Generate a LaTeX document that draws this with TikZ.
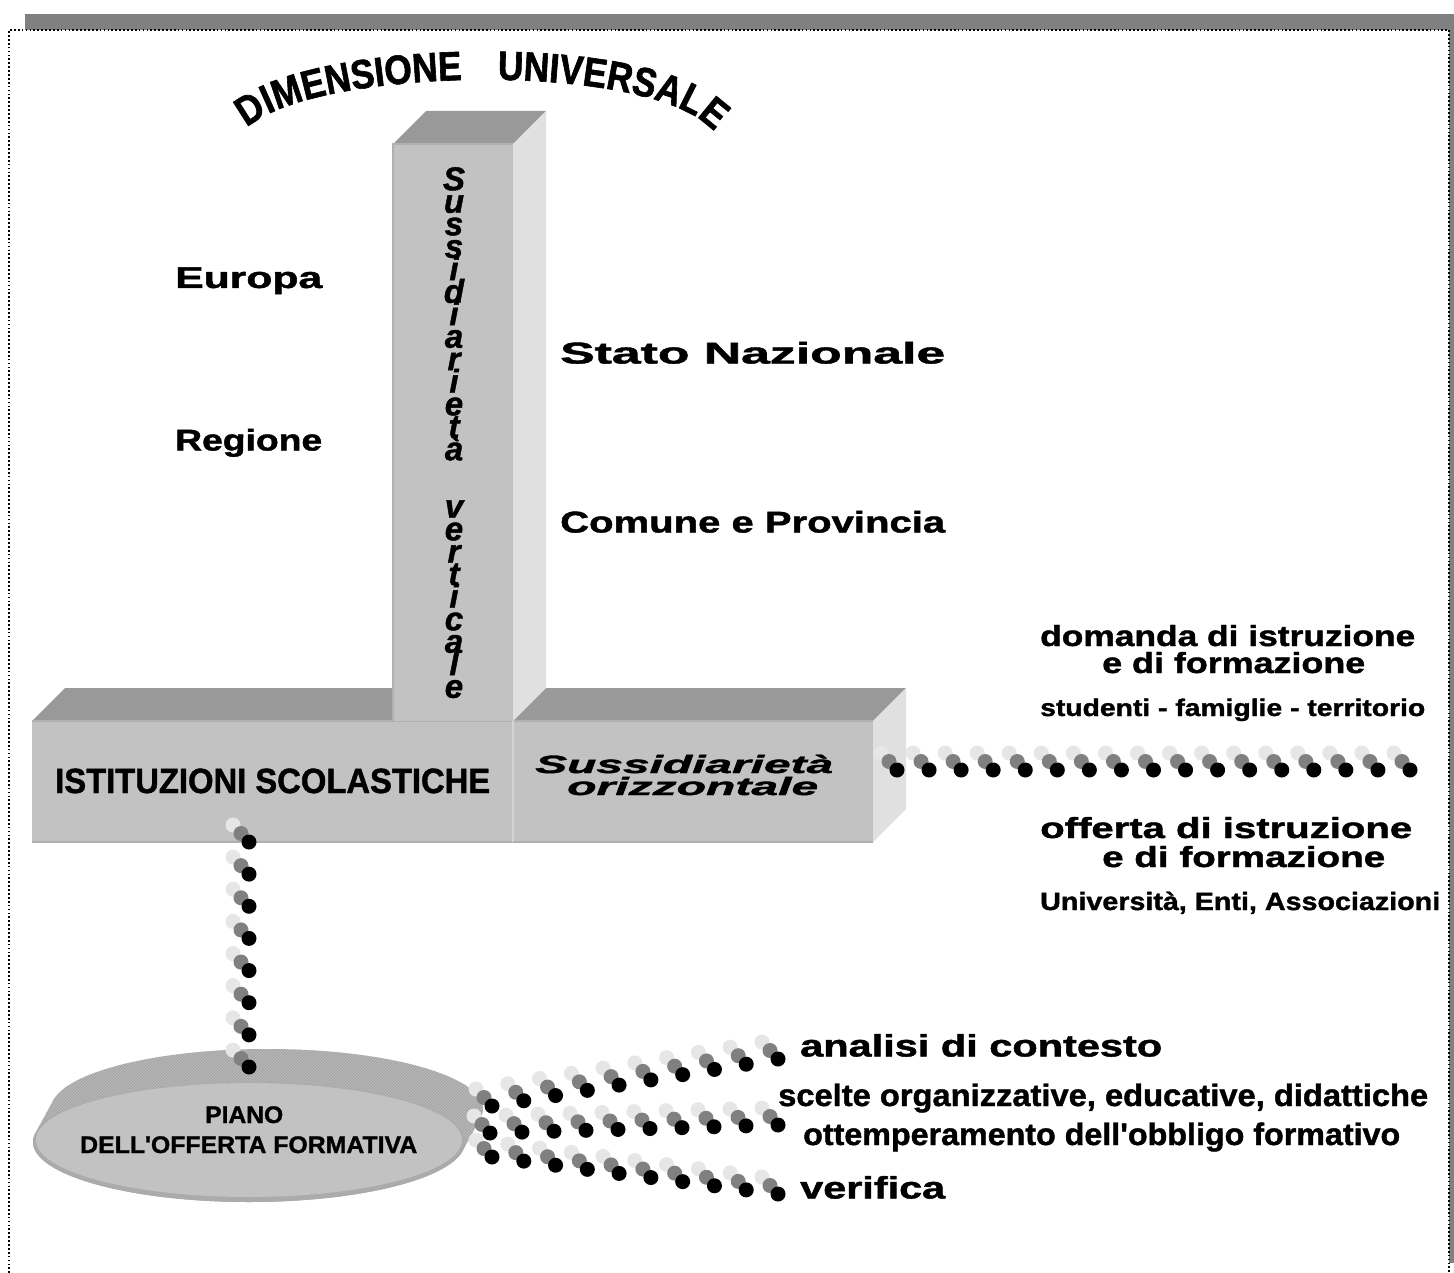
\documentclass[tikz,border=0pt]{standalone}
\usepackage{fontspec}
\setmainfont{Liberation Sans}[Ligatures=TeXOff,
  BoldFeatures={FakeBold=1.3}, BoldItalicFeatures={FakeBold=1.3}]
\newfontfamily\archfont{Liberation Sans}[FakeStretch=0.86, Ligatures=TeXOff,
  BoldFeatures={FakeBold=1.5}]
\usetikzlibrary{calc,patterns,decorations.text}

% stacked letters keep a fixed line pitch
\setlength{\lineskiplimit}{-100pt}

% stretch or squeeze a text to a given width, keeping its height
\newcommand{\fitw}[2]{\resizebox{#1}{\height}{#2}}

\definecolor{shadowgray}{HTML}{808080}
\definecolor{facefront}{HTML}{C2C2C2}
\definecolor{facetop}{HTML}{999999}
\definecolor{faceside}{HTML}{E0E0E0}
\definecolor{edgegray}{HTML}{B0B0B0}
\definecolor{seamgray}{HTML}{D4D4D4}
\definecolor{beadlight}{HTML}{E6E6E6}
\definecolor{beadmid}{HTML}{808080}
\definecolor{diskside}{HTML}{A6A6A6}
\definecolor{diskhatch}{HTML}{C0C0C0}
\definecolor{diskedge}{HTML}{ABABAB}

\tikzset{
  lbl/.style={inner sep=0pt, anchor=base west, font=\bfseries\fontsize{#1}{#1}\selectfont},
  ilbl/.style={inner sep=0pt, anchor=base west, font=\bfseries\itshape\fontsize{#1}{#1}\selectfont},
  bead/.pic={
    \fill[beadlight] (-16,-17) circle (7.5pt);
    \fill[beadmid]   (-8,-8.5) circle (7.5pt);
    \fill[black]     (0,0) circle (7.5pt);
  },
  framedots/.style={black, line width=1.7pt, dash pattern=on 1.7pt off 2.2pt},
  diskpart/.style={x radius=216pt, y radius=60pt},
}

\begin{document}
\begin{tikzpicture}[x=1pt,y=-1pt]
\useasboundingbox (0,0) rectangle (1454,1273);
\fill[white] (0,0) rectangle (1454,1273);

% page frame with its shadow
\fill[shadowgray] (25,14) rectangle (1454,30);
\fill[shadowgray] (1449,30) rectangle (1454,1263);
\draw[framedots] (9,1273) -- (9,30) -- (1449,30) -- (1449,1273);

% arched title
\path[decorate, decoration={text along path, text align=left,
      text={|\archfont\bfseries\fontsize{41}{46}\selectfont|DIMENSIONE}}]
  (247,128) .. controls (314,66) and (655,60) .. (714,132);
\path[decorate, decoration={text along path, text align=right,
      text={|\archfont\bfseries\fontsize{41}{46}\selectfont|UNIVERSALE}}]
  (247,128) .. controls (314,66) and (655,60) .. (714,132);

% horizontal block
\fill[facetop] (32,721) -- (65,688) -- (906,688) -- (873,721) -- cycle;
\fill[faceside] (873,721) -- (906,688) -- (906,809) -- (873,842) -- cycle;
\fill[facefront] (32,721) rectangle (873,842);
\draw[edgegray, line width=1.5pt] (32,721) -- (873,721);
\draw[edgegray, line width=1.5pt] (32,842) -- (873,842);
\draw[seamgray, line width=1.5pt] (513,721) -- (513,842);

% vertical pillar
\fill[facefront] (393,144) rectangle (513,721);
\fill[facetop] (393,144) -- (426,111) -- (546,111) -- (513,144) -- cycle;
\fill[faceside] (513,144) -- (546,111) -- (546,688) -- (513,721) -- cycle;
\draw[edgegray, line width=1.2pt] (393,721) -- (393,144) -- (513,144);

% disc
\coordinate (diskfront) at (249,1142);
\coordinate (diskback) at (267,1109);
\fill[diskside] \foreach \t in {0,0.05,...,1.001} { ($(diskfront)!\t!(diskback)$) ellipse [diskpart] };
\path[pattern=north east lines, pattern color=diskhatch]
  \foreach \t in {0,0.05,...,1.001} { ($(diskfront)!\t!(diskback)$) ellipse [diskpart] };
\fill[diskedge] (diskfront) ellipse [diskpart];
\fill[facefront] ($(diskfront)+(0,-2)$) ellipse [x radius=213pt, y radius=57pt];

% texts
\node[lbl=30] (europa) at (175,288) {\fitw{147pt}{Europa}};
\node[lbl=30] (regione) at (175,450.5) {\fitw{147pt}{Regione}};
\node[lbl=30] (stato) at (560,363.5) {\fitw{385pt}{Stato Nazionale}};
\node[lbl=30] (comune) at (560,532.5) {\fitw{385pt}{Comune e Provincia}};

\node[font=\bfseries\itshape\fontsize{33}{22.5}\selectfont,
      align=center, inner sep=0pt, anchor=north] (vertlbl) at (454,167)
  {S\\u\\s\\s\\i\\d\\i\\a\\r\\i\\e\\t\\à\\[35pt]v\\e\\r\\t\\i\\c\\a\\l\\e};

\node[lbl=35] (ist) at (55,793) {\fitw{435pt}{ISTITUZIONI SCOLASTICHE}};
\node[ilbl=25] (orizz1) at (535,773) {\fitw{298pt}{Sussidiarietà}};
\node[ilbl=25] (orizz2) at (567,795) {\fitw{251pt}{orizzontale}};

\node[lbl=29] (dom1) at (1040,646) {\fitw{375pt}{domanda di istruzione}};
\node[lbl=29] (dom2) at (1102,673) {\fitw{263pt}{e di formazione}};
\node[lbl=24] (dom3) at (1040,716) {\fitw{385pt}{studenti - famiglie - territorio}};
\node[lbl=29] (off1) at (1040,838) {\fitw{372pt}{offerta di istruzione}};
\node[lbl=29] (off2) at (1102,867) {\fitw{283pt}{e di formazione}};
\node[lbl=25] (off3) at (1040,910) {\fitw{400pt}{Università, Enti, Associazioni}};

\node[lbl=31] (analisi) at (800,1056.5) {\fitw{362pt}{analisi di contesto}};
\node[lbl=31] (scelte) at (778,1106) {\fitw{650pt}{scelte organizzative, educative, didattiche}};
\node[lbl=31] (ottemp) at (803,1145) {\fitw{597pt}{ottemperamento dell'obbligo formativo}};
\node[lbl=31] (verifica) at (800,1198.5) {\fitw{145pt}{verifica}};

\node[lbl=24] (piano1) at (205,1123) {\fitw{78pt}{PIANO}};
\node[lbl=24] (piano2) at (80,1153) {\fitw{337pt}{DELL'OFFERTA FORMATIVA}};

% bead chains
\coordinate (vA) at (249,842);   \coordinate (vB) at (249,1067);
\coordinate (hA) at (897,770);   \coordinate (hB) at (1410,770);
\coordinate (tA) at (492,1106);  \coordinate (tB) at (778,1059);
\coordinate (mA) at (490,1133);  \coordinate (mB) at (778,1125);
\coordinate (bA) at (492,1157);  \coordinate (bB) at (778,1194);
\foreach \i in {0,...,7}  { \pic at ($(vA)!\i/7!(vB)$) {bead}; }
\foreach \i in {0,...,16} { \pic at ($(hA)!\i/16!(hB)$) {bead}; }
\foreach \i in {0,...,9}  { \pic at ($(tA)!\i/9!(tB)$) {bead}; }
\foreach \i in {0,...,9}  { \pic at ($(mA)!\i/9!(mB)$) {bead}; }
\foreach \i in {0,...,9}  { \pic at ($(bA)!\i/9!(bB)$) {bead}; }
\end{tikzpicture}
\end{document}
